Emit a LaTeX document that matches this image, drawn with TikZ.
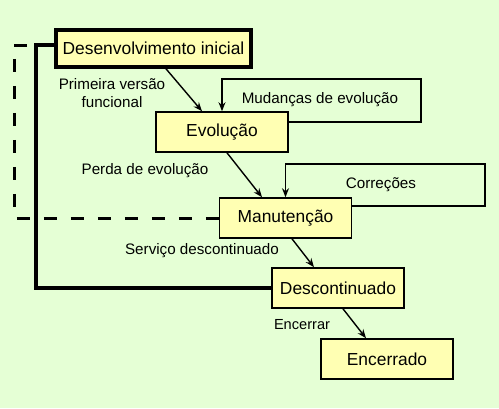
\documentclass[tikz,border=0pt]{standalone}
\usepackage{fontspec}
\setmainfont{Liberation Sans}
\usetikzlibrary{arrows.meta}
\definecolor{bggreen}{RGB}{229,255,213}
\definecolor{boxyellow}{RGB}{255,255,179}
\pgfdeclarelayer{bglayer}
\pgfdeclarelayer{linelayer}
\pgfsetlayers{bglayer,linelayer,main}
\begin{document}
\begin{tikzpicture}[x=1pt,y=-1pt,
  stagebox/.style={draw=black,fill=boxyellow,line width=1.6pt,minimum width=132pt,minimum height=40pt,inner sep=0pt,font=\fontsize{17.4}{20}\selectfont},
  mainbox/.style={stagebox,line width=3.6pt,minimum width=195pt,minimum height=37pt},
  arr/.style={draw=black,line width=1.4pt,-{Stealth[length=9pt,width=7pt,inset=3pt]}},
  loopline/.style={draw=black,line width=1.5pt,-{Stealth[length=9pt,width=7pt,inset=3pt]}},
  lbl/.style={font=\fontsize{15.2}{18}\selectfont,inner sep=0pt,align=center},
  thickline/.style={draw=black,line width=3.2pt},
  dashline/.style={draw=black,line width=3pt,dash pattern=on 13pt off 14pt}]
\useasboundingbox (0,0) rectangle (499,408);
\begin{pgfonlayer}{bglayer}
\fill[bggreen] (0,0) rectangle (499,408);
\end{pgfonlayer}

% coordinates
\coordinate (sc) at (36,288);
\coordinate (dc) at (14,45);
\coordinate (m1) at (421,79);
\coordinate (c1) at (485,164);

% stages
\node[mainbox] (D1) at (153.5,48.5) {Desenvolvimento inicial};
\node[stagebox] (Evo) at (222,132) {Evolução};
\node[stagebox] (Man) at (285.5,218) {Manutenção};
\node[stagebox] (Desc) at (338,288) {Descontinuado};
\node[stagebox] (Enc) at (387,359) {Encerrado};

% left lines, behind the boxes
\begin{pgfonlayer}{linelayer}
\draw[dashline] ([yshift=3.5pt]D1.west) -| (dc) |- (Man.west);
\draw[thickline] ([yshift=3.5pt]D1.west) -| (sc) -- (Desc.west);
\end{pgfonlayer}

% main arrows
\draw[arr] ([xshift=12.5pt]D1.south) -- ([xshift=-20pt]Evo.north);
\draw[arr] ([xshift=5pt]Evo.south) -- ([xshift=-23.5pt]Man.north);
\draw[arr] ([xshift=6.5pt]Man.south) -- ([xshift=-24pt]Desc.north);
\draw[arr] ([xshift=5pt]Desc.south) -- ([xshift=-21pt]Enc.north);

% loops
\draw[loopline] ([yshift=10pt]Evo.east) -| (m1) -| (Evo.north);
\draw[loopline] ([yshift=12pt]Man.east) -| (c1) -| (Man.north);

% labels
\node[lbl] (l1) at (112,93) {Primeira versão\\funcional};
\node[lbl] (l2) at (145,171) {Perda de evolução};
\node[lbl] (l3) at (202,251) {Serviço descontinuado};
\node[lbl,font=\fontsize{14.6}{17}\selectfont] (l4) at (302,325) {Encerrar};
\node[lbl] (l5) at (320,100) {Mudanças de evolução};
\node[lbl] (l6) at (381,185) {Correções};
\end{tikzpicture}
\end{document}
